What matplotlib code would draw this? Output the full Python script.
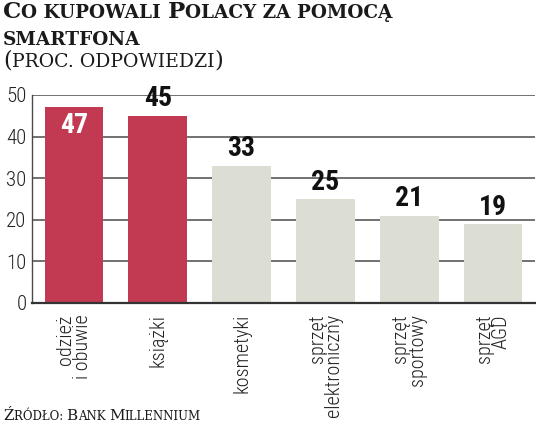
import matplotlib
matplotlib.use("Agg")
import matplotlib.pyplot as plt
from matplotlib import font_manager

categories = ["odzież\ni obuwie", "książki", "kosmetyki",
              "sprzęt\nelektroniczny", "sprzęt\nsportowy", "sprzęt\nAGD"]
values = [47, 45, 33, 25, 21, 19]
highlight = [True, True, False, False, False, False]
yticks = [0, 10, 20, 30, 40, 50]

RED = "#C13A52"
GREY = "#DCDDD3"
LINE = "#4a4a4a"

# pick a narrow sans if there is one
names = set(f.name for f in font_manager.fontManager.ttflist)
sans = "DejaVu Sans"
for cand in ["Roboto Condensed", "Liberation Sans Narrow", "Open Sans Condensed"]:
    if cand in names:
        sans = cand
        break
serif = "DejaVu Serif"

fig = plt.figure(figsize=(5.36, 4.28), dpi=100, facecolor="w")
ax = fig.add_axes([32/536, 125/428, 503/536, 208/428])

x = list(range(len(values)))
colors = [RED if h else GREY for h in highlight]
ax.bar(x, values, width=0.7, color=colors, zorder=2)

ax.set_ylim(0, 50)
ax.set_xlim(-0.5, len(values) - 0.5)
ax.set_yticks(yticks)
ax.set_yticklabels([str(t) for t in yticks], fontsize=15, family=sans,
                   fontweight="light", color="#222222")
ax.tick_params(axis="y", length=0, pad=4)
ax.grid(True, axis="y", color=LINE, lw=1.1, zorder=1)
ax.set_axisbelow(True)
for s in ["top", "right"]:
    ax.spines[s].set_visible(False)
ax.spines["left"].set_color(LINE)
ax.spines["left"].set_linewidth(1.0)
ax.spines["bottom"].set_color("#333333")
ax.spines["bottom"].set_linewidth(1.6)
ax.spines["bottom"].set_zorder(3)

ax.set_xticks(x)
ax.set_xticklabels(categories, rotation=90, fontsize=14.5, family=sans,
                   fontweight="light", color="#222222", ha="center", va="top",
                   multialignment="right", linespacing=0.85)
ax.tick_params(axis="x", length=0, pad=8)

for i, v in enumerate(values):
    if highlight[i] and i == 0:
        ax.text(i, v - 1.0, str(v), ha="center", va="top", color="white",
                fontsize=20, fontweight="bold", family=sans, zorder=4)
    else:
        ax.text(i, v + 0.8, str(v), ha="center", va="bottom", color="#111111",
                fontsize=20, fontweight="bold", family=sans, zorder=4)

# fake small caps: list of (text, size) pieces drawn one after another
renderer = fig.canvas.get_renderer()

def smallcaps(px, py, pieces, weight="bold"):
    xp = px
    for txt, size in pieces:
        t = fig.text(xp / 536, 1 - py / 428, txt.upper(), fontsize=size,
                     family=serif, fontweight=weight, va="baseline", ha="left",
                     color="#1a1a1a")
        bb = t.get_window_extent(renderer)
        xp += bb.width

big, small = 16.5, 13.3
smallcaps(3, 18, [("C", big), ("o kupowali ", small), ("P", big),
                  ("olacy za pomocą", small)])
smallcaps(3, 45, [("smartfona", small)])
smallcaps(3, 67, [("(", 16), ("proc. odpowiedzi", 13.6), (")", 16)],
          weight="normal")
smallcaps(3, 420, [("Ź", 11), ("ródło: ", 8.5), ("B", 11), ("ank ", 8.5),
                   ("M", 11), ("illennium", 8.5)], weight="normal")

plt.savefig("out.png", dpi=100, facecolor="w")
